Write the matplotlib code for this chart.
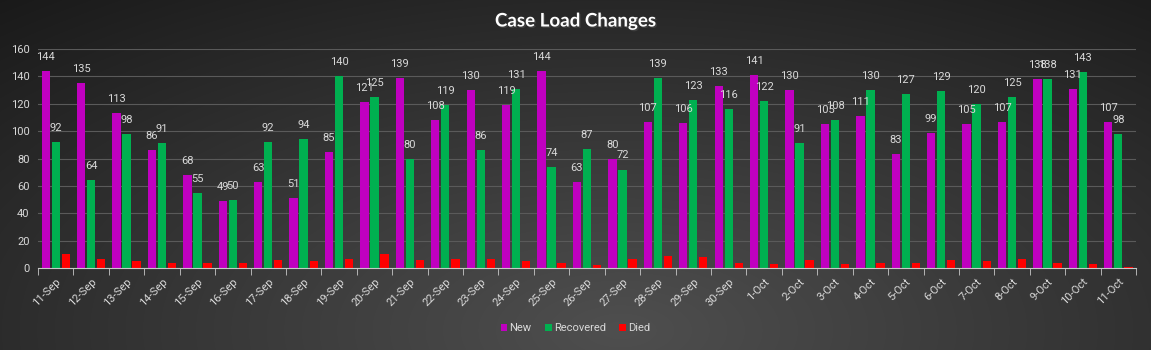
import numpy as np
import matplotlib.pyplot as plt
import matplotlib.patheffects as pe

dates = ['11-Sep', '12-Sep', '13-Sep', '14-Sep', '15-Sep', '16-Sep', '17-Sep', '18-Sep',
         '19-Sep', '20-Sep', '21-Sep', '22-Sep', '23-Sep', '24-Sep', '25-Sep', '26-Sep',
         '27-Sep', '28-Sep', '29-Sep', '30-Sep', '1-Oct', '2-Oct', '3-Oct', '4-Oct',
         '5-Oct', '6-Oct', '7-Oct', '8-Oct', '9-Oct', '10-Oct', '11-Oct']
new = [144, 135, 113, 86, 68, 49, 63, 51, 85, 121, 139, 108, 130, 119, 144, 63,
       80, 107, 106, 133, 141, 130, 105, 111, 83, 99, 105, 107, 138, 131, 107]
recovered = [92, 64, 98, 91, 55, 50, 92, 94, 140, 125, 80, 119, 86, 131, 74, 87,
             72, 139, 123, 116, 122, 91, 108, 130, 127, 129, 120, 125, 138, 143, 98]
died = [10, 7, 5, 4, 4, 4, 6, 5, 7, 10, 6, 7, 7, 5, 4, 2,
        7, 9, 8, 4, 3, 6, 3, 4, 4, 6, 5, 7, 4, 3, 1]

txt = '#d9d9d9'
fig = plt.figure(figsize=(11.51, 3.5), dpi=100)

# dark gradient background
bg = fig.add_axes([0, 0, 1, 1], zorder=-10)
yy, xx = np.mgrid[0:350, 0:1151]
d = np.sqrt(((xx - 620) / 900.0) ** 2 + ((yy - 330) / 420.0) ** 2)
shade = np.clip(0.31 - 0.20 * d, 0.10, 0.32)
bg.imshow(np.dstack([shade, shade, shade]), aspect='auto', extent=[0, 1, 0, 1])
bg.axis('off')

ax = fig.add_axes([0.033, 0.234, 0.954, 0.626])
ax.set_facecolor('none')
x = np.arange(len(dates))
w = 0.235
off = 0.283
b1 = ax.bar(x - off, new, w, color='#C000C0', label='New', zorder=3)
b2 = ax.bar(x, recovered, w, color='#00B050', label='Recovered', zorder=3)
b3 = ax.bar(x + off, died, w, color='#FF0000', label='Died', zorder=3)

# value labels on New and Recovered only
for bars in (b1, b2):
    for r in bars:
        ax.annotate(str(int(r.get_height())), (r.get_x() + r.get_width() / 2, r.get_height()),
                    xytext=(0, 6.5), textcoords='offset points', ha='center', va='bottom',
                    color=txt, fontsize=8, family='Roboto', zorder=4)

ax.set_xlim(-0.5, len(dates) - 0.5)
ax.set_ylim(0, 160)
ax.set_yticks(range(0, 161, 20))
ax.grid(axis='y', color='#5a5a5a', linewidth=0.8, zorder=0)
for s in ['top', 'right', 'left']:
    ax.spines[s].set_visible(False)
ax.spines['bottom'].set_color('#c8c8c8')
ax.spines['bottom'].set_zorder(5)
ax.tick_params(axis='y', length=0, colors=txt, labelsize=8, pad=6)
ax.set_xticks(x)
ax.set_xticklabels(dates, rotation=45, ha='right', rotation_mode='anchor',
                   color=txt, fontsize=8, family='Roboto')
ax.tick_params(axis='x', length=0, pad=6)
ax.set_xticks(np.arange(-0.5, len(dates), 1), minor=True)
ax.tick_params(axis='x', which='minor', length=5, color='#c8c8c8', direction='out')
for lab in ax.get_yticklabels():
    lab.set_family('Roboto')

fig.text(0.5, 0.94, 'Case Load Changes', ha='center', va='center', color='white',
         fontsize=13.5, fontweight='bold', family='Lato',
         path_effects=[pe.withSimplePatchShadow(offset=(1, -1), alpha=0.6)])

leg = fig.legend(loc='center', bbox_to_anchor=(0.5, 0.062), ncol=3, frameon=False,
                 handlelength=0.6, handleheight=0.6, handletextpad=0.2, columnspacing=1.2,
                 prop={'family': 'Roboto', 'size': 8})
for t in leg.get_texts():
    t.set_color(txt)

fig.savefig('out.png', dpi=100)
